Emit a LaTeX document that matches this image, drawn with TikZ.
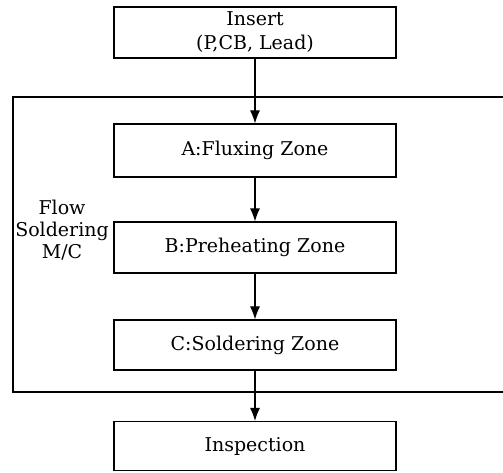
\documentclass[tikz,border=0pt]{standalone}
\usepackage{fontspec}
\setmainfont{DejaVu Serif}
\usetikzlibrary{arrows.meta}
\begin{document}
\begin{tikzpicture}[x=1pt,y=-1pt,
  stepbox/.style={draw,line width=1.2pt,minimum width=282pt,inner sep=0pt,
    font=\fontsize{19}{24}\selectfont,align=center},
  flowarrow/.style={line width=1.1pt,-{Latex[length=13pt,width=10pt]}}]
\useasboundingbox (0,0) rectangle (503,472);
\node[stepbox,minimum height=51pt] (ins) at (255,32.5) {Insert\\(P,CB, Lead)};
\node[stepbox,minimum height=53pt] (a) at (255,150.5) {A:Fluxing Zone};
\node[stepbox,minimum height=51pt] (b) at (255,247.5) {B:Preheating Zone};
\node[stepbox,minimum height=50pt] (c) at (255,345) {C:Soldering Zone};
\node[stepbox,minimum height=49pt] (insp) at (255,446) {Inspection};
\coordinate (tr) at (505,97);
\coordinate (br) at (505,392);
\draw[line width=1.2pt] (tr) -- (13,97) -- (13,392) -- (br);
\node[font=\fontsize{19}{22}\selectfont,align=center,inner sep=0pt] (flow) at (62,230) {Flow\\Soldering\\M/C};
\draw[flowarrow] (ins) -- (a);
\draw[flowarrow] (a) -- (b);
\draw[flowarrow] (b) -- (c);
\draw[flowarrow] (c) -- (insp);
\end{tikzpicture}
\end{document}
